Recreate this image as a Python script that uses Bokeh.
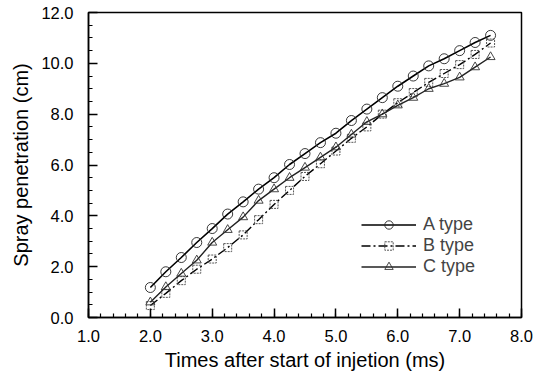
from bokeh.plotting import figure
from bokeh.models import Legend, LegendItem, PrintfTickFormatter, FixedTicker
from bokeh.embed import file_html
from bokeh.resources import INLINE

t = [2.0, 2.25, 2.5, 2.75, 3.0, 3.25, 3.5, 3.75, 4.0, 4.25, 4.5, 4.75, 5.0,
     5.25, 5.5, 5.75, 6.0, 6.25, 6.5, 6.75, 7.0, 7.25, 7.5]
a_type = [1.18, 1.8, 2.36, 2.95, 3.5, 4.07, 4.55, 5.05, 5.5, 6.02, 6.45, 6.88, 7.25,
          7.75, 8.2, 8.65, 9.1, 9.5, 9.9, 10.18, 10.5, 10.82, 11.1]
b_type = [0.47, 0.95, 1.45, 1.9, 2.3, 2.75, 3.25, 3.85, 4.45, 5.0, 5.55, 6.05, 6.55,
          7.05, 7.5, 8.0, 8.45, 8.85, 9.25, 9.6, 9.95, 10.35, 10.8]
c_type = [0.6, 1.2, 1.73, 2.25, 2.95, 3.45, 3.95, 4.6, 5.05, 5.5, 5.9, 6.3, 6.7,
          7.2, 7.7, 8.0, 8.35, 8.65, 9.0, 9.2, 9.45, 9.85, 10.25]
labels = ["A type", "B type", "C type"]
x_ticks = [1, 2, 3, 4, 5, 6, 7, 8]
y_ticks = [0, 2, 4, 6, 8, 10, 12]

FONT = "Liberation Sans"

p = figure(width=548, height=376, output_backend="svg", toolbar_location=None,
           x_range=(1, 8), y_range=(0, 12),
           min_border_left=88, min_border_right=27, min_border_top=12, min_border_bottom=59,
           frame_width=433, frame_height=305)
p.background_fill_color = "white"
p.border_fill_color = "white"
p.outline_line_color = "black"
p.outline_line_width = 1.5
p.xgrid.visible = False
p.ygrid.visible = False

for ax in (p.xaxis, p.yaxis):
    ax.axis_line_width = 1.5
    ax.major_tick_in = 9
    ax.major_tick_out = 0
    ax.minor_tick_in = 4
    ax.minor_tick_out = 0
    ax.major_tick_line_width = 1.5
    ax.minor_tick_line_width = 1.2
    ax.formatter = PrintfTickFormatter(format="%.1f")
    ax.major_label_text_font = FONT
    ax.major_label_text_font_size = "16.5px"
    ax.major_label_text_color = "black"
    ax.axis_label_text_font = FONT
    ax.axis_label_text_font_size = "20px"
    ax.axis_label_text_font_style = "normal"
    ax.axis_label_text_color = "black"

p.xaxis.ticker = FixedTicker(ticks=x_ticks, minor_ticks=[1 + 0.2 * i for i in range(36)])
p.yaxis.ticker = FixedTicker(ticks=y_ticks, minor_ticks=[0.5 * i for i in range(25)])
p.xaxis.major_label_standoff = 12
p.yaxis.major_label_standoff = 15
p.xaxis.axis_label = "Times after start of injetion (ms)"
p.yaxis.axis_label = "Spray penetration (cm)"
p.xaxis.axis_label_standoff = 4
p.yaxis.axis_label_standoff = 6

la = p.line(t, a_type, line_color="black", line_width=1.6)
ma = p.scatter(t, a_type, marker="circle", size=10, fill_alpha=0,
               line_color="#222222", line_width=0.9)
lb = p.line(t, b_type, line_color="black", line_width=1.4, line_dash="9 3 2 3")
mb = p.scatter(t, b_type, marker="square", size=8, fill_alpha=0,
               line_color="#444444", line_width=0.9, line_dash="2 1")
lc = p.line(t, c_type, line_color="#222222", line_width=1.4)
mc = p.scatter(t, c_type, marker="triangle", size=9, fill_alpha=0,
               line_color="#333333", line_width=0.9)

legend = Legend(items=[LegendItem(label=labels[0], renderers=[la, ma]),
                       LegendItem(label=labels[1], renderers=[lb, mb]),
                       LegendItem(label=labels[2], renderers=[lc, mc])],
                location=(273, 40), border_line_color=None, background_fill_alpha=0,
                padding=0, margin=0, spacing=0, glyph_width=55, glyph_height=21,
                label_height=21, label_standoff=7,
                label_text_font=FONT, label_text_font_size="18px")
p.add_layout(legend, "center")

open("out.html", "w").write(file_html(p, INLINE))
